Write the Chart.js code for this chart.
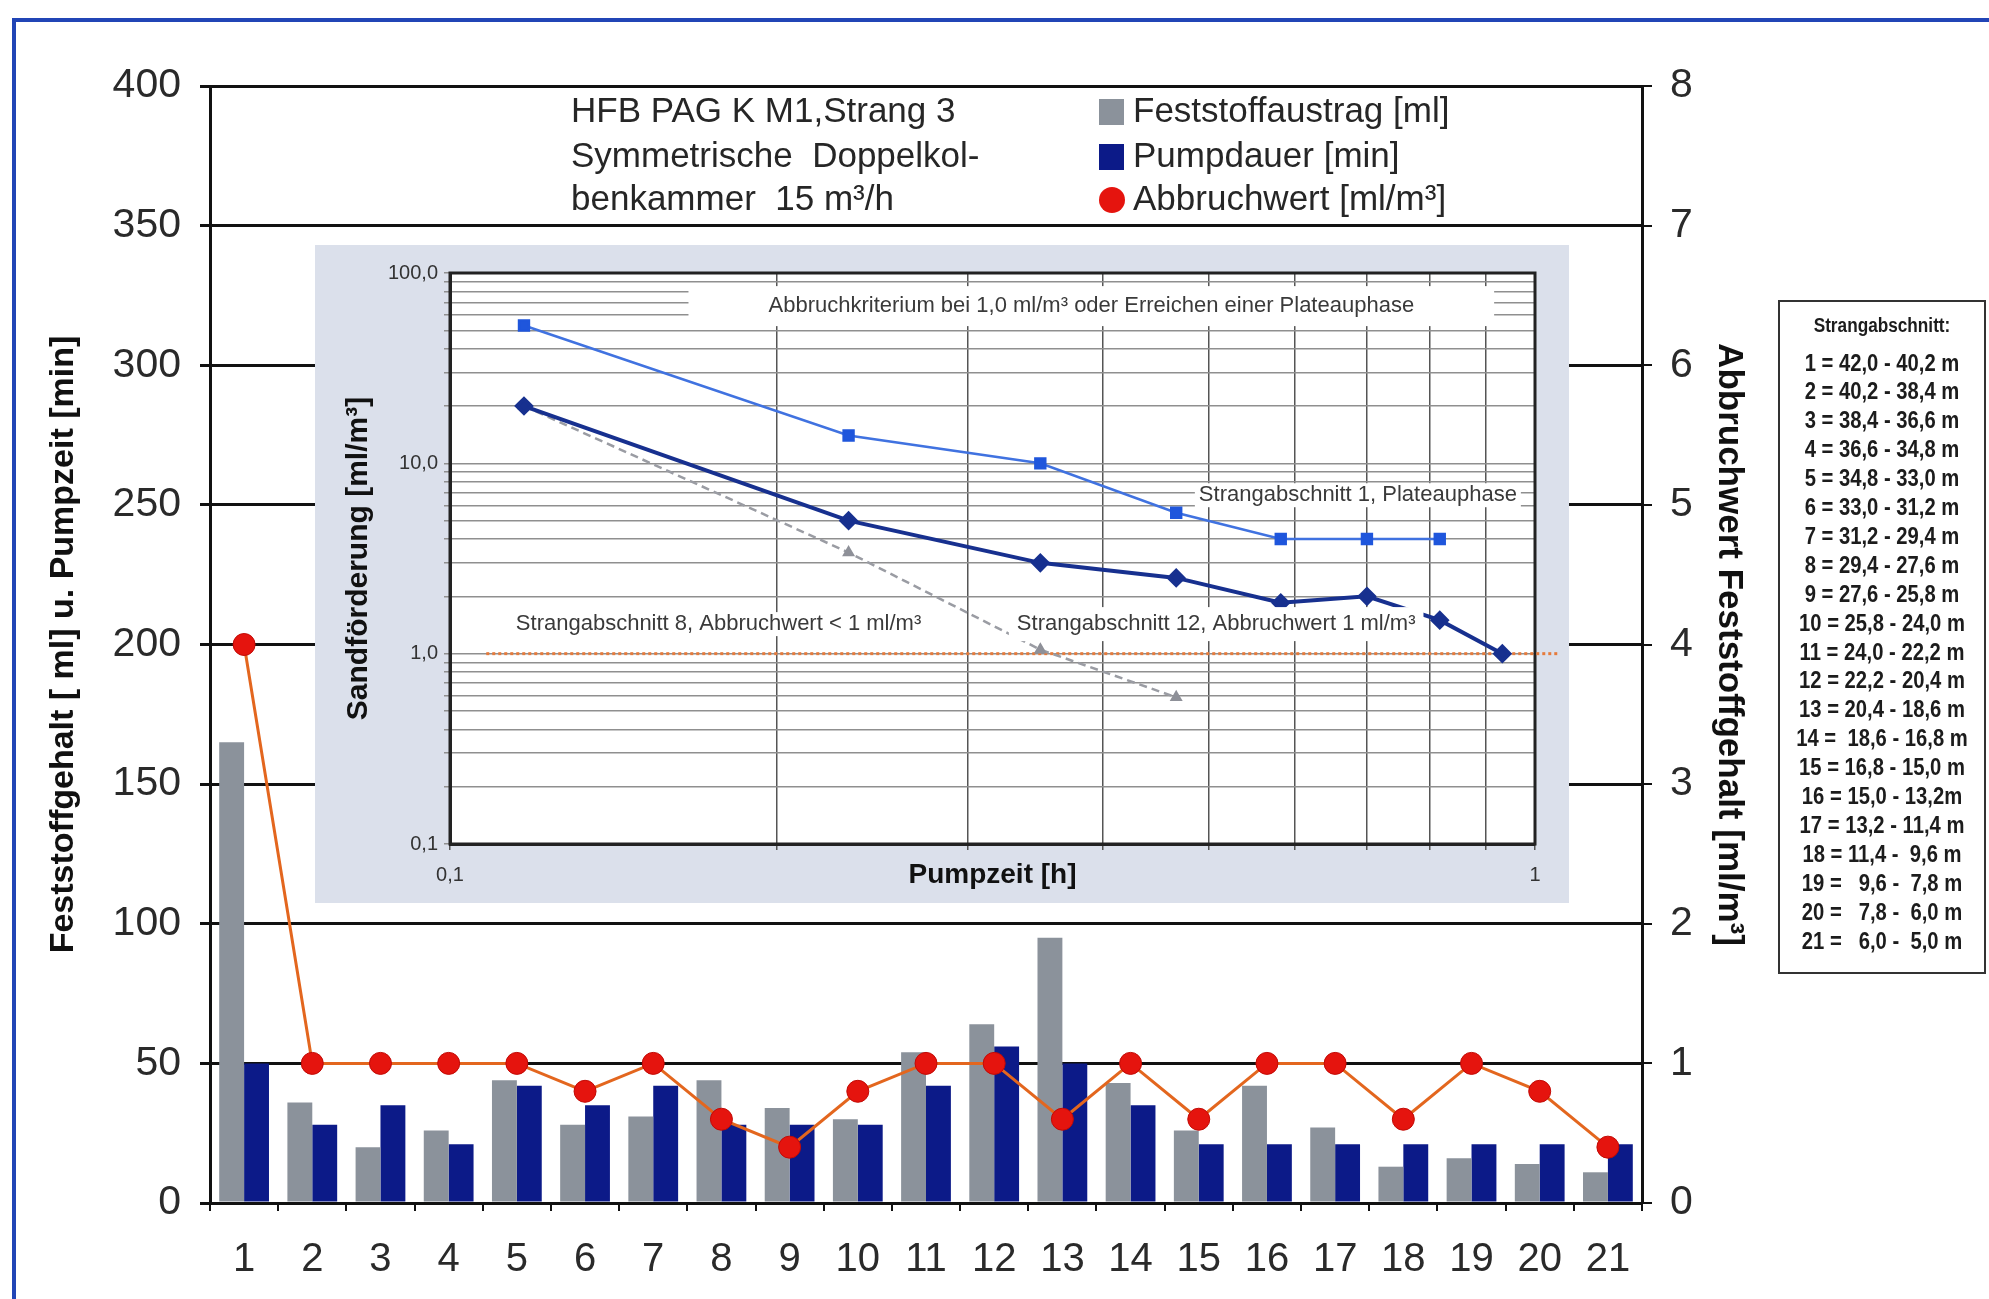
<!DOCTYPE html>
<html>
<head>
<meta charset="utf-8">
<script src="https://cdn.jsdelivr.net/npm/chart.js@4.4.1/dist/chart.umd.min.js"></script>
<style>
  html, body { margin: 0; padding: 0; background: #fff; }
  #wrap { position: relative; width: 1989px; height: 1299px; overflow: hidden; }
  #main { position: absolute; left: 0; top: 0; }
  #inset { position: absolute; left: 315px; top: 245px; background: #dbe0eb; }
  #table {
    position: absolute; left: 1778px; top: 300px; width: 208px; height: 674px;
    border: 2px solid #333; box-sizing: border-box;
    font-family: "Liberation Sans", Arial, sans-serif; font-weight: bold; color: #1c1c1c;
  }
  #table div { position: absolute; left: 0; width: 100%; text-align: center; white-space: pre; line-height: 29px; }
  #table .th { font-size: 20px; transform: scaleX(0.86); }
  #table .row { font-size: 23px; transform: scaleX(0.88); }
</style>
</head>
<body>
<div id="wrap">
  <canvas id="main" width="1989" height="1299"></canvas>
  <canvas id="inset" width="1254" height="658"></canvas>
  <div id="table"></div>
</div>
<script>
// main chart: sections 1..21
const categories = ['1', '2', '3', '4', '5', '6', '7', '8', '9', '10', '11', '12', '13', '14', '15', '16', '17', '18', '19', '20', '21'];
const feststoffaustrag = [165, 36, 20, 26, 44, 28, 31, 44, 34, 30, 54, 64, 95, 43, 26, 42, 27, 13, 16, 14, 11];
const pumpdauer = [50, 28, 35, 21, 42, 35, 42, 28, 28, 28, 42, 56, 50, 35, 21, 21, 21, 21, 21, 21, 21];
const abbruchwert = [4.0, 1.0, 1.0, 1.0, 1.0, 0.8, 1.0, 0.6, 0.4, 0.8, 1.0, 1.0, 0.6, 1.0, 0.6, 1.0, 1.0, 0.6, 1.0, 0.8, 0.4];

const titleLines = ['HFB PAG K M1,Strang 3', 'Symmetrische  Doppelkol-', 'benkammer  15 m³/h'];

// inset: Sandförderung over pump time (log-log)
const pumpzeitH = [0.117, 0.233, 0.35, 0.467, 0.583, 0.7, 0.817, 0.933];
const sand1 = [53, 14, 10, 5.5, 4.0, 4.0, 4.0];
const sand12 = [20, 5.0, 3.0, 2.5, 1.85, 2.0, 1.5, 1.0];
const sand8 = [20, 3.4, 1.05, 0.59];
const criterionX = [0.108, 1.05];
const criterionY = [1.0, 1.0];

// inset grid ticks
const insetXTicks = [0.1, 0.2, 0.3, 0.4, 0.5, 0.6, 0.7, 0.8, 0.9, 1];
const insetYTicks = [0.1, 0.2, 0.3, 0.4, 0.5, 0.6, 0.7, 0.8, 0.9,
  1, 2, 3, 4, 5, 6, 7, 8, 9,
  10, 20, 30, 40, 50, 60, 70, 80, 90, 100];

const segmentRanges = [
  '1 = 42,0 - 40,2 m', '2 = 40,2 - 38,4 m', '3 = 38,4 - 36,6 m', '4 = 36,6 - 34,8 m',
  '5 = 34,8 - 33,0 m', '6 = 33,0 - 31,2 m', '7 = 31,2 - 29,4 m', '8 = 29,4 - 27,6 m',
  '9 = 27,6 - 25,8 m', '10 = 25,8 - 24,0 m', '11 = 24,0 - 22,2 m', '12 = 22,2 - 20,4 m',
  '13 = 20,4 - 18,6 m', '14 =  18,6 - 16,8 m', '15 = 16,8 - 15,0 m', '16 = 15,0 - 13,2m',
  '17 = 13,2 - 11,4 m', '18 = 11,4 -  9,6 m', '19 =   9,6 -  7,8 m', '20 =   7,8 -  6,0 m',
  '21 =   6,0 -  5,0 m'
];

const FONT = '"Liberation Sans", Arial, sans-serif';
Chart.defaults.font.family = FONT;
Chart.defaults.color = '#2a2a2a';

const GRAY = '#8b929b';
const NAVY = '#0c1a88';

// blue frame around the figure
const framePlugin = {
  id: 'frame',
  beforeDraw(chart) {
    const ctx = chart.ctx;
    ctx.save();
    ctx.fillStyle = '#fff';
    ctx.fillRect(0, 0, chart.width, chart.height);
    ctx.strokeStyle = '#2145b6';
    ctx.lineWidth = 4;
    ctx.beginPath();
    ctx.moveTo(14, chart.height);
    ctx.lineTo(14, 20);
    ctx.lineTo(chart.width, 20);
    ctx.stroke();
    ctx.restore();
  }
};

// title text and legend inside the top band
const legendPlugin = {
  id: 'legendBox',
  afterDraw(chart) {
    const ctx = chart.ctx;
    const rows = [112, 157, 200];
    ctx.save();
    ctx.font = '35px ' + FONT;
    ctx.fillStyle = '#262626';
    ctx.textBaseline = 'middle';
    titleLines.forEach((t, i) => ctx.fillText(t, 571, rows[i]));
    chart.data.datasets.forEach((ds, i) => {
      if (ds.type === 'line') {
        ctx.fillStyle = ds.pointBackgroundColor;
        ctx.beginPath();
        ctx.arc(1112, rows[i], 13, 0, Math.PI * 2);
        ctx.fill();
      } else {
        ctx.fillStyle = ds.backgroundColor;
        ctx.fillRect(1099, rows[i] - 13, 25, 26);
      }
      ctx.fillStyle = '#262626';
      ctx.fillText(ds.label, 1133, rows[i]);
    });
    ctx.restore();
  }
};

new Chart(document.getElementById('main'), {
  type: 'bar',
  data: {
    labels: categories,
    datasets: [
      {
        label: 'Feststoffaustrag [ml]',
        data: feststoffaustrag,
        backgroundColor: GRAY,
        yAxisID: 'y',
        order: 2,
        categoryPercentage: 0.73,
        barPercentage: 1.0
      },
      {
        label: 'Pumpdauer [min]',
        data: pumpdauer,
        backgroundColor: NAVY,
        yAxisID: 'y',
        order: 2,
        categoryPercentage: 0.73,
        barPercentage: 1.0
      },
      {
        type: 'line',
        label: 'Abbruchwert [ml/m³]',
        data: abbruchwert,
        yAxisID: 'y1',
        order: 1,
        borderColor: '#e3661e',
        borderWidth: 3,
        tension: 0,
        pointRadius: 11,
        pointBackgroundColor: '#e5140e',
        pointBorderColor: '#c20a05',
        pointBorderWidth: 1
      }
    ]
  },
  options: {
    responsive: false,
    animation: false,
    layout: { padding: { left: 0, top: 86, right: 229, bottom: 0 } },
    plugins: {
      legend: { display: false },
      tooltip: { enabled: false }
    },
    scales: {
      x: {
        grid: { offset: true, drawOnChartArea: false, color: '#111', lineWidth: 2, tickLength: 8 },
        border: { color: '#111', width: 3 },
        ticks: { font: { size: 40 }, color: '#2a2a2a', padding: 25, maxRotation: 0 },
        afterFit: s => { s.height = 96; }
      },
      y: {
        position: 'left',
        min: 0,
        max: 400,
        ticks: { stepSize: 50, font: { size: 41 }, color: '#2a2a2a', padding: 19 },
        grid: { color: '#111', lineWidth: 3, tickLength: 10 },
        border: { color: '#111', width: 3 },
        title: {
          display: true,
          text: 'Feststoffgehalt [ ml] u. Pumpzeit [min]',
          font: { size: 34, weight: 'bold' },
          color: '#111',
          padding: { top: 43, bottom: 0 }
        },
        afterFit: s => { s.width = 210; }
      },
      y1: {
        position: 'right',
        min: 0,
        max: 8,
        ticks: { stepSize: 1, font: { size: 41 }, color: '#2a2a2a', padding: 18 },
        grid: { drawOnChartArea: false, color: '#111', lineWidth: 2, tickLength: 10 },
        border: { color: '#111', width: 3 },
        title: {
          display: true,
          text: 'Abbruchwert Feststoffgehalt [ml/m³]',
          font: { size: 35, weight: 'bold' },
          color: '#111',
          padding: { top: 10, bottom: 0 }
        },
        afterFit: s => { s.width = 118; }
      }
    }
  },
  plugins: [framePlugin, legendPlugin]
});

// ---------- inset ----------
const pts = ys => ys.map((y, i) => ({ x: pumpzeitH[i], y: y }));

const isDecade = v => Math.abs(Math.log10(v) - Math.round(Math.log10(v))) < 1e-6;

const insetNotes = [
  { text: 'Abbruchkriterium bei 1,0 ml/m³ oder Erreichen einer Plateauphase', x: 0.39, y: 67, align: 'center', padX: 80, padY: 20 },
  { text: 'Strangabschnitt 1, Plateauphase', x: 0.49, y: 6.8, align: 'left', padX: 4, padY: 12 },
  { text: 'Strangabschnitt 8, Abbruchwert < 1 ml/m³', x: 0.115, y: 1.43, align: 'left', padX: 4, padY: 12 },
  { text: 'Strangabschnitt 12, Abbruchwert 1 ml/m³', x: 0.333, y: 1.43, align: 'left', padX: 8, padY: 17 }
];

const insetBg = {
  id: 'insetBg',
  beforeDraw(chart) {
    const { ctx, chartArea: a } = chart;
    ctx.save();
    ctx.fillStyle = '#fff';
    ctx.fillRect(a.left, a.top, a.right - a.left, a.bottom - a.top);
    ctx.restore();
  },
  beforeDatasetsDraw(chart) {
    const { ctx, chartArea: a } = chart;
    ctx.save();
    ctx.strokeStyle = '#222';
    ctx.lineWidth = 3;
    ctx.strokeRect(a.left, a.top, a.right - a.left, a.bottom - a.top);
    ctx.restore();
  },
  afterDatasetsDraw(chart) {
    const { ctx, scales: { x, y } } = chart;
    ctx.save();
    ctx.font = '22px ' + FONT;
    ctx.textBaseline = 'middle';
    insetNotes.forEach(n => {
      const px = x.getPixelForValue(n.x);
      const py = y.getPixelForValue(n.y);
      const w = ctx.measureText(n.text).width;
      const left = n.align === 'center' ? px - w / 2 : px;
      ctx.fillStyle = '#fff';
      ctx.fillRect(left - n.padX, py - n.padY, w + 2 * n.padX, 2 * n.padY);
      ctx.fillStyle = '#3a3a3a';
      ctx.textAlign = 'left';
      ctx.fillText(n.text, left, py);
    });
    ctx.restore();
  }
};

new Chart(document.getElementById('inset'), {
  type: 'line',
  data: {
    datasets: [
      {
        label: 'Strangabschnitt 1',
        data: pts(sand1),
        borderColor: '#4072e0',
        borderWidth: 2.5,
        pointStyle: 'rect',
        pointRadius: 7,
        pointBackgroundColor: '#1f56dc',
        pointBorderColor: '#1f56dc'
      },
      {
        label: 'Strangabschnitt 12',
        data: pts(sand12),
        borderColor: '#17308f',
        borderWidth: 4,
        pointStyle: 'rectRot',
        pointRadius: 7,
        pointBackgroundColor: '#17308f',
        pointBorderColor: '#17308f'
      },
      {
        label: 'Strangabschnitt 8',
        data: pts(sand8),
        borderColor: '#9a9ca3',
        borderWidth: 2.5,
        borderDash: [8, 5],
        pointStyle: 'triangle',
        pointRadius: 5,
        pointBackgroundColor: '#8e9098',
        pointBorderColor: '#8e9098'
      },
      {
        label: 'Abbruchkriterium',
        data: criterionX.map((v, i) => ({ x: v, y: criterionY[i] })),
        borderColor: '#e57b3c',
        borderWidth: 3,
        borderDash: [3, 3],
        pointRadius: 0,
        clip: false
      }
    ]
  },
  options: {
    responsive: false,
    animation: false,
    layout: { padding: { left: 0, top: 28, right: 34, bottom: 0 } },
    plugins: {
      legend: { display: false },
      tooltip: { enabled: false }
    },
    scales: {
      x: {
        type: 'logarithmic',
        min: 0.1,
        max: 1,
        afterBuildTicks: s => { s.ticks = insetXTicks.map(v => ({ value: v })); },
        ticks: {
          autoSkip: false,
          maxRotation: 0,
          font: { size: 20 },
          color: '#333',
          padding: 13,
          callback: v => isDecade(v) ? (v < 1 ? '0,1' : '1') : ''
        },
        grid: { color: '#555', lineWidth: 1.5, tickLength: 6 },
        border: { color: '#222', width: 3 },
        title: {
          display: true,
          text: 'Pumpzeit [h]',
          font: { size: 28, weight: 'bold' },
          color: '#111',
          padding: { top: 0, bottom: 11 }
        },
        afterFit: s => { s.height = 59; }
      },
      y: {
        type: 'logarithmic',
        min: 0.1,
        max: 100,
        afterBuildTicks: s => { s.ticks = insetYTicks.map(v => ({ value: v })); },
        ticks: {
          autoSkip: false,
          font: { size: 20 },
          color: '#333',
          padding: 6,
          callback: v => isDecade(v) ? (v < 1 ? '0,1' : v.toFixed(1).replace('.', ',')) : ''
        },
        grid: { color: '#8f8f8f', lineWidth: 1.5, tickLength: 6 },
        border: { color: '#222', width: 3 },
        title: {
          display: true,
          text: 'Sandförderung [ml/m³]',
          font: { size: 30, weight: 'bold' },
          color: '#111',
          padding: { top: 26, bottom: 0 }
        },
        afterFit: s => { s.width = 135; }
      }
    }
  },
  plugins: [insetBg]
});

// section table on the right
const table = document.getElementById('table');
const th = document.createElement('div');
th.className = 'th';
th.textContent = 'Strangabschnitt:';
th.style.top = '9px';
table.appendChild(th);
segmentRanges.forEach((r, i) => {
  const d = document.createElement('div');
  d.className = 'row';
  d.textContent = r;
  d.style.top = (46.5 + i * 28.9) + 'px';
  table.appendChild(d);
});
</script>
</body>
</html>
